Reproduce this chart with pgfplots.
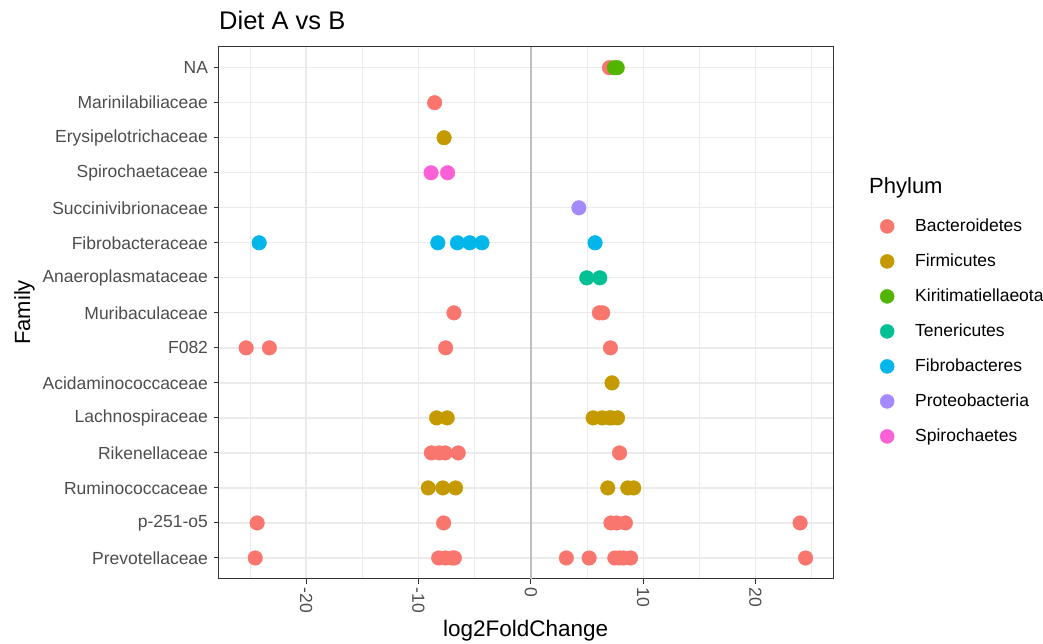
\documentclass[border=0pt]{standalone}
\usepackage{fontspec}
\setmainfont{Liberation Sans}
\usepackage{pgfplots}
\pgfplotsset{compat=1.18}

\definecolor{cBac}{HTML}{F8766D}
\definecolor{cFir}{HTML}{C49A00}
\definecolor{cKir}{HTML}{53B400}
\definecolor{cTen}{HTML}{00C094}
\definecolor{cFib}{HTML}{00B6EB}
\definecolor{cPro}{HTML}{A58AFF}
\definecolor{cSpi}{HTML}{FB61D7}
\definecolor{grid92}{HTML}{EBEBEB}
\definecolor{grey20}{HTML}{333333}
\definecolor{grey30}{HTML}{4D4D4D}

\pgfplotsset{
  dot/.style={only marks, mark=*, mark size=7.3pt, color=#1,
    mark options={draw=none, fill=#1},
    legend image code/.code={%
      \path[draw=none, fill=none] (0pt,-1pt) rectangle (42pt,1pt);
      \fill[#1] (14pt,0pt) circle (7pt);}},
}

\begin{document}
\begin{tikzpicture}[x=1pt,y=1pt]
\useasboundingbox (0,0) rectangle (1043,644);

\begin{axis}[
  at={(218.5pt,65pt)}, anchor=south west,
  width=614.5pt, height=532.3pt, scale only axis,
  xmin=-27.8, xmax=26.9,
  ymin=0.4, ymax=15.6,
  xtick={-20,-10,0,10,20},
  xticklabels={-20,-10,0,10,20},
  minor xtick={-25,-15,-5,5,15,25},
  ytick={1,...,15},
  yticklabels={Prevotellaceae,p-251-o5,Ruminococcaceae,Rikenellaceae,Lachnospiraceae,Acidaminococcaceae,F082,Muribaculaceae,Anaeroplasmataceae,Fibrobacteraceae,Succinivibrionaceae,Spirochaetaceae,Erysipelotrichaceae,Marinilabiliaceae,NA},
  tick pos=left,
  grid=both,
  major grid style={draw=grid92, line width=1.3pt},
  minor grid style={draw=grid92, line width=0.7pt},
  axis line style={draw=grey20, line width=1pt},
  tick align=outside,
  major tick length=5pt,
  minor tick length=0pt,
  tick style={draw=grey20, line width=1pt},
  ticklabel style={font=\fontsize{17.5}{20}\selectfont, text=grey30},
  xticklabel style={rotate=-90, anchor=west},
  yticklabel style={anchor=east, xshift=-2pt},
  legend style={
    at={(1,1)}, anchor=north west, xshift=37pt, yshift=-160pt,
    draw=none, fill=none,
    font=\fontsize{17.5}{20}\selectfont,
    row sep=0pt, column sep=0pt,
    nodes={inner sep=0pt, minimum height=35pt, anchor=west},
  },
  legend cell align=left,
]

% zero reference line
\draw[color=black!25, line width=2pt] (axis cs:0,0.4) -- (axis cs:0,15.6);

\addplot[dot=cBac] coordinates {
  (7.0,15)
  (-8.56,14)
  (-6.84,8) (6.1,8) (6.4,8)
  (-25.34,7) (-23.27,7) (-7.58,7) (7.09,7)
  (-8.85,4) (-8.14,4) (-7.62,4) (-6.46,4) (7.90,4)
  (-24.36,2) (-7.76,2) (7.13,2) (7.65,2) (8.42,2) (23.97,2)
  (-24.53,1) (-8.2,1) (-7.6,1) (-7.0,1) (-6.8,1) (3.16,1) (5.19,1) (7.48,1) (7.90,1) (8.25,1) (8.88,1) (24.46,1)
};
\addlegendentry{Bacteroidetes}

\addplot[dot=cFir] coordinates {
  (-7.72,13)
  (7.23,6)
  (-8.39,5) (-7.44,5) (5.55,5) (6.35,5) (7.0,5) (7.2,5) (7.72,5)
  (-9.13,3) (-7.83,3) (-6.70,3) (6.85,3) (8.63,3) (9.16,3)
};
\addlegendentry{Firmicutes}

\addplot[dot=cKir] coordinates {
  (7.44,15) (7.69,15)
};
\addlegendentry{Kiritimatiellaeota}

\addplot[dot=cTen] coordinates {
  (4.98,9) (6.14,9)
};
\addlegendentry{Tenericutes}

\addplot[dot=cFib] coordinates {
  (-24.18,10) (-8.28,10) (-6.53,10) (-5.44,10) (-4.35,10) (5.72,10)
};
\addlegendentry{Fibrobacteres}

\addplot[dot=cPro] coordinates {
  (4.28,11)
};
\addlegendentry{Proteobacteria}

\addplot[dot=cSpi] coordinates {
  (-8.88,12) (-7.41,12)
};
\addlegendentry{Spirochaetes}

\end{axis}

% titles
\node[anchor=base west, font=\fontsize{25.5}{30}\selectfont, inner sep=0pt] at (219,614.7) {Diet A vs B};
\node[anchor=base, font=\fontsize{22.5}{27}\selectfont, inner sep=0pt] at (525.6,7.3) {log2FoldChange};
\node[rotate=90, anchor=base, font=\fontsize{22}{26}\selectfont, inner sep=0pt] at (30,331.5) {Family};
\node[anchor=base west, font=\fontsize{22}{26}\selectfont, inner sep=0pt] at (869,450) {Phylum};
\end{tikzpicture}
\end{document}
